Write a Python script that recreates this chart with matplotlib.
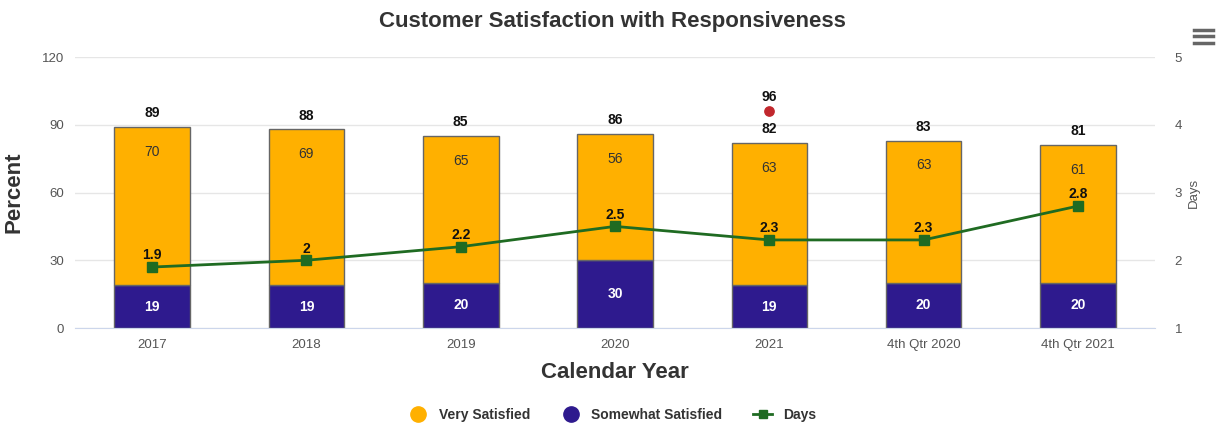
import numpy as np
import matplotlib.pyplot as plt
from matplotlib.lines import Line2D

years = ['2017', '2018', '2019', '2020', '2021', '4th Qtr 2020', '4th Qtr 2021']
somewhat = [19, 19, 20, 30, 19, 20, 20]
very = [70, 69, 65, 56, 63, 63, 61]
days = [1.9, 2, 2.2, 2.5, 2.3, 2.3, 2.8]
extra_x = ['2021']
extra_y = [96]

c_very = '#ffb000'
c_some = '#2e1a8e'
c_days = '#1f6b22'
c_red = '#c1272d'

plt.rcParams['font.family'] = ['Liberation Sans', 'DejaVu Sans']

fig = plt.figure(figsize=(12.25, 4.28), dpi=100)
ax = fig.add_axes([0.0612, 0.2336, 0.8817, 0.6332])
x = np.arange(len(years))
totals = [a + b for a, b in zip(somewhat, very)]

ax.bar(x, somewhat, width=0.49, color=c_some, edgecolor='#666666', linewidth=1, zorder=2)
ax.bar(x, very, width=0.49, bottom=somewhat, color=c_very, edgecolor='#666666', linewidth=1, zorder=2)

for i in range(len(years)):
    ax.text(x[i], somewhat[i] / 2, str(somewhat[i]), ha='center', va='center',
            color='white', fontsize=10, fontweight='bold', zorder=4)
    ax.text(x[i], totals[i] - 11, str(very[i]), ha='center', va='center',
            color='#333333', fontsize=10, zorder=4)
    ax.text(x[i], totals[i] + 3, str(totals[i]), ha='center', va='bottom',
            color='#111111', fontsize=10, fontweight='bold', zorder=4)

xi = [years.index(v) for v in extra_x]
ax.scatter(xi, extra_y, color=c_red, s=45, zorder=5)
for a, b in zip(xi, extra_y):
    ax.text(a, b + 3, str(b), ha='center', va='bottom', color='#111111',
            fontsize=10, fontweight='bold')

ax.set_xlim(-0.5, len(years) - 0.5)
ax.set_ylim(0, 120)
ax.set_yticks([0, 30, 60, 90, 120])
ax.grid(axis='y', color='#e6e6e6', linewidth=1, zorder=0)
ax.set_axisbelow(True)
for s in ['top', 'right', 'left']:
    ax.spines[s].set_visible(False)
ax.spines['bottom'].set_color('#ccd6eb')
ax.tick_params(axis='both', length=0, colors='#555555', labelsize=9.5, pad=8)
ax.set_xticks(x)
ax.set_xticklabels(years)
ax.set_ylabel('Percent', fontsize=16, fontweight='bold', color='#333333', labelpad=12)
ax.set_xlabel('Calendar Year', fontsize=16, fontweight='bold', color='#333333', labelpad=8)

ax2 = ax.twinx()
ax2.plot(x, days, color=c_days, marker='s', markersize=7, linewidth=2, zorder=6)
for i in range(len(years)):
    ax2.text(x[i], days[i] + 0.07, str(days[i]), ha='center', va='bottom',
             color='#111111', fontsize=10, fontweight='bold', zorder=7)
ax2.set_ylim(1, 5)
ax2.set_yticks([1, 2, 3, 4, 5])
for s in ax2.spines.values():
    s.set_visible(False)
ax2.tick_params(axis='y', length=0, colors='#555555', labelsize=9.5, pad=14)
ax2.set_ylabel('Days', fontsize=9.5, color='#555555', labelpad=4)

fig.text(0.5, 0.95, 'Customer Satisfaction with Responsiveness', ha='center', va='center',
         fontsize=16, fontweight='bold', color='#333333')

handles = [
    Line2D([], [], marker='o', linestyle='none', markersize=11, color=c_very),
    Line2D([], [], marker='o', linestyle='none', markersize=11, color=c_some),
    Line2D([], [], marker='s', color=c_days, linewidth=2, markersize=6),
]
leg = fig.legend(handles, ['Very Satisfied', 'Somewhat Satisfied', 'Days'], loc='center',
                 bbox_to_anchor=(0.5, 0.03), ncol=3, frameon=False, handlelength=1.4,
                 columnspacing=2.2, prop={'weight': 'bold', 'size': 10})
for t in leg.get_texts():
    t.set_color('#333333')

# menu icon
for yy in [0.93, 0.915, 0.90]:
    fig.add_artist(Line2D([0.975, 0.99], [yy, yy], color='#666666', linewidth=2.5,
                          transform=fig.transFigure))

fig.savefig('out.png', dpi=100)
